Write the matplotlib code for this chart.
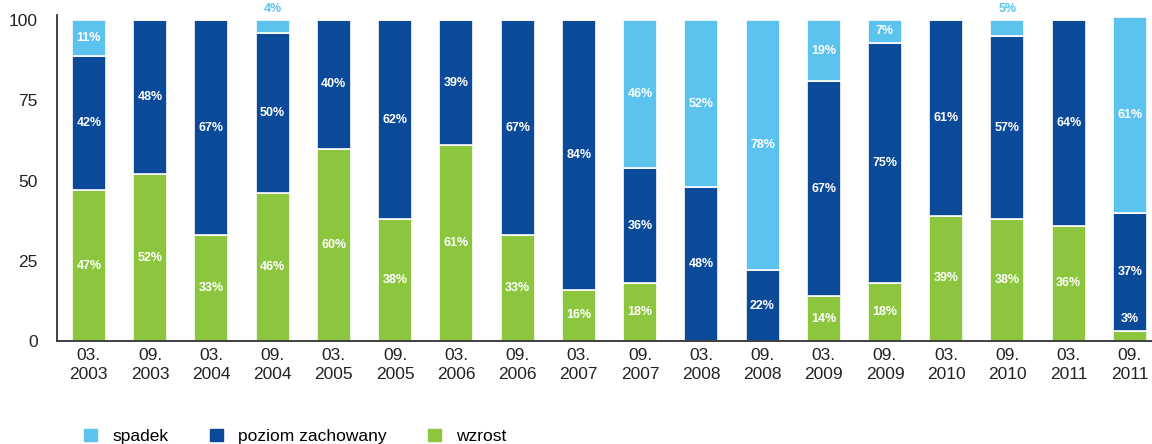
import matplotlib
matplotlib.use("Agg")
import matplotlib.pyplot as plt
import matplotlib.patches as mpatches
import numpy as np

plt.rcParams["font.family"] = ["Liberation Sans", "DejaVu Sans"]

periods = ["03.\n2003", "09.\n2003", "03.\n2004", "09.\n2004", "03.\n2005", "09.\n2005",
           "03.\n2006", "09.\n2006", "03.\n2007", "09.\n2007", "03.\n2008", "09.\n2008",
           "03.\n2009", "09.\n2009", "03.\n2010", "09.\n2010", "03.\n2011", "09.\n2011"]
wzrost = [47, 52, 33, 46, 60, 38, 61, 33, 16, 18, 0, 0, 14, 18, 39, 38, 36, 3]
poziom = [42, 48, 67, 50, 40, 62, 39, 67, 84, 36, 48, 22, 67, 75, 61, 57, 64, 37]
spadek = [11, 0, 0, 4, 0, 0, 0, 0, 0, 46, 52, 78, 19, 7, 0, 5, 0, 61]

C_SPADEK = "#5cc3ee"
C_POZIOM = "#0b4a98"
C_WZROST = "#8cc63f"

fig = plt.figure(figsize=(11.52, 4.44), dpi=100)
ax = fig.add_axes([0.0495, 0.232, 0.9505, 0.734])

x = np.arange(len(periods))
w = 0.555
g = np.array(wzrost)
p = np.array(poziom)
s = np.array(spadek)

ax.bar(x, g, width=w, color=C_WZROST, edgecolor="white", linewidth=1.2)
ax.bar(x, p, width=w, bottom=g, color=C_POZIOM, edgecolor="white", linewidth=1.2)
ax.bar(x, s, width=w, bottom=g + p, color=C_SPADEK, edgecolor="white", linewidth=1.2)

lbl = dict(ha="center", va="center", color="white", fontweight="bold", fontsize=9)
for i in x:
    # wzrost
    if g[i] >= 10:
        ax.text(i, g[i] / 2, f"{g[i]}%", **lbl)
    elif g[i] > 0:
        ax.text(i, g[i] + 4, f"{g[i]}%", **lbl)
    # poziom zachowany
    if p[i] > 0:
        ax.text(i, g[i] + p[i] / 2, f"{p[i]}%", **lbl)
    # spadek
    if s[i] >= 7:
        ax.text(i, g[i] + p[i] + s[i] / 2, f"{s[i]}%", **lbl)
    elif s[i] > 0:
        ax.text(i, 103.5, f"{s[i]}%", ha="center", va="center", color=C_SPADEK,
                fontweight="bold", fontsize=9, clip_on=False)

ax.set_xlim(-0.52, 17.36)
ax.set_ylim(0, 101.6)
ax.set_yticks([0, 25, 50, 75, 100])
ax.set_xticks(x)
ax.set_xticklabels(periods, fontsize=12.5, color="#222222", linespacing=1.3)
ax.tick_params(axis="both", length=0, labelsize=12.5, colors="#222222")
ax.tick_params(axis="y", pad=14)
ax.tick_params(axis="x", pad=5)
ax.spines[["top", "right"]].set_visible(False)
for sp in ["left", "bottom"]:
    ax.spines[sp].set_color("#333333")
    ax.spines[sp].set_linewidth(1.3)

handles = [
    mpatches.Patch(color=C_SPADEK, label="spadek"),
    mpatches.Patch(color=C_POZIOM, label="poziom zachowany"),
    mpatches.Patch(color=C_WZROST, label="wzrost"),
]
fig.legend(handles=handles, loc="lower left", bbox_to_anchor=(0.0595, -0.035), ncol=3,
           frameon=False, fontsize=12.5, handlelength=0.75, handleheight=0.75,
           handletextpad=0.9, columnspacing=2.35)

fig.savefig("out.png", dpi=100)
